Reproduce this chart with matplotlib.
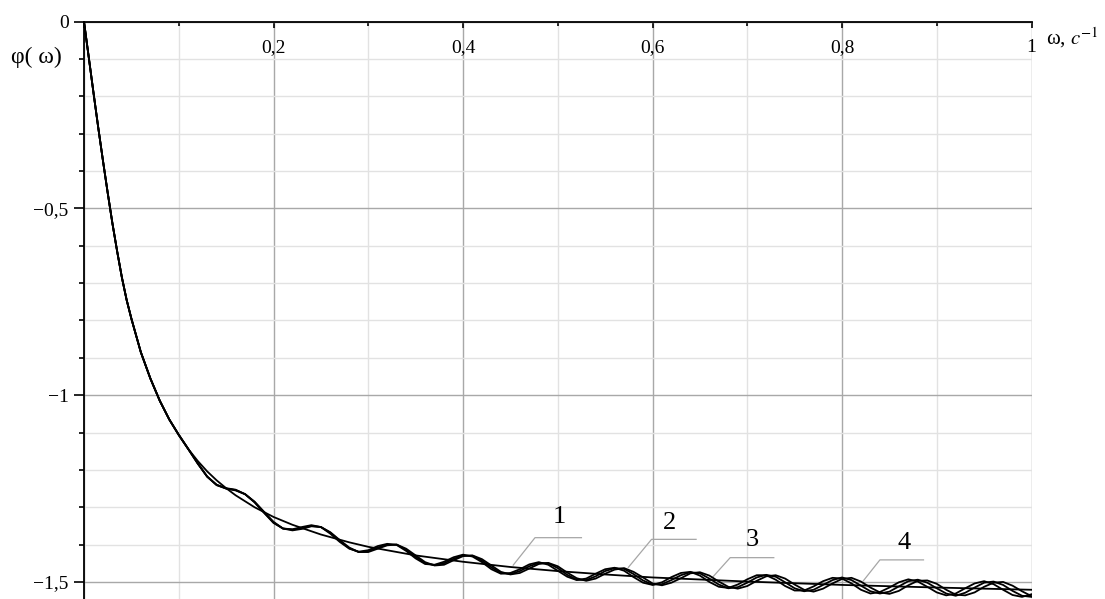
import numpy as np
import matplotlib
matplotlib.use("Agg")
import matplotlib.pyplot as plt
from matplotlib.ticker import MultipleLocator, FuncFormatter

plt.rcParams['font.family'] = ['Liberation Serif', 'DejaVu Serif']
plt.rcParams['mathtext.fontset'] = 'stix'

# общий начальный участок (все 4 кривые совпадают)
OMEGA_HEAD = [0.000, 0.005, 0.010, 0.015, 0.020, 0.025, 0.030, 0.035, 0.040,
              0.045, 0.050, 0.060, 0.070, 0.080, 0.090]
PHI_HEAD = [0.000, -0.095, -0.190, -0.283, -0.372, -0.458, -0.540, -0.615, -0.685,
            -0.745, -0.795, -0.885, -0.955, -1.015, -1.065]

# кривая 1 - гладкая
OMEGA_1 = [0.10, 0.11, 0.12, 0.13, 0.14, 0.15, 0.16, 0.18, 0.20, 0.22, 0.25, 0.28,
           0.30, 0.35, 0.40, 0.45, 0.50, 0.55, 0.60, 0.70, 0.80, 0.90, 1.00]
PHI_1 = [-1.107, -1.144, -1.176, -1.204, -1.228, -1.249, -1.268, -1.300, -1.326,
         -1.347, -1.373, -1.394, -1.406, -1.429, -1.446, -1.460, -1.471, -1.480,
         -1.488, -1.499, -1.508, -1.515, -1.521]

# кривые 2-4 (с колебаниями), отсчёты через 0.01 от 0.10 до 1.00
OMEGA_W = np.linspace(0.10, 1.00, 91)
PHI_2 = [-1.106, -1.144, -1.183, -1.218, -1.240, -1.249, -1.253, -1.265, -1.287, -1.315,
         -1.342, -1.357, -1.359, -1.353, -1.348, -1.353, -1.371, -1.393, -1.411, -1.419,
         -1.415, -1.404, -1.398, -1.401, -1.417, -1.437, -1.452, -1.454, -1.446, -1.434,
         -1.427, -1.432, -1.447, -1.466, -1.478, -1.476, -1.466, -1.453, -1.447, -1.454,
         -1.470, -1.486, -1.495, -1.491, -1.478, -1.466, -1.462, -1.470, -1.487, -1.502,
         -1.508, -1.501, -1.487, -1.476, -1.473, -1.483, -1.500, -1.513, -1.516, -1.507,
         -1.493, -1.482, -1.482, -1.494, -1.511, -1.523, -1.523, -1.512, -1.498, -1.489,
         -1.491, -1.504, -1.521, -1.531, -1.527, -1.515, -1.501, -1.493, -1.499, -1.513,
         -1.528, -1.536, -1.531, -1.517, -1.504, -1.498, -1.506, -1.521, -1.535, -1.540,
         -1.533]
PHI_3 = [-1.106, -1.144, -1.183, -1.218, -1.240, -1.250, -1.254, -1.265, -1.286, -1.314,
         -1.341, -1.357, -1.360, -1.356, -1.350, -1.353, -1.368, -1.390, -1.410, -1.420,
         -1.418, -1.408, -1.400, -1.400, -1.414, -1.433, -1.450, -1.455, -1.450, -1.438,
         -1.429, -1.430, -1.443, -1.461, -1.476, -1.479, -1.471, -1.458, -1.449, -1.450,
         -1.463, -1.481, -1.494, -1.495, -1.485, -1.471, -1.463, -1.465, -1.479, -1.496,
         -1.507, -1.506, -1.495, -1.482, -1.474, -1.477, -1.491, -1.507, -1.517, -1.514,
         -1.502, -1.488, -1.481, -1.486, -1.501, -1.517, -1.525, -1.521, -1.508, -1.495,
         -1.488, -1.495, -1.510, -1.525, -1.531, -1.526, -1.512, -1.498, -1.494, -1.502,
         -1.517, -1.531, -1.537, -1.529, -1.515, -1.502, -1.499, -1.508, -1.524, -1.537,
         -1.540]
PHI_4 = [-1.106, -1.144, -1.182, -1.218, -1.241, -1.250, -1.255, -1.265, -1.285, -1.312,
         -1.339, -1.357, -1.362, -1.358, -1.351, -1.353, -1.367, -1.388, -1.408, -1.420,
         -1.420, -1.411, -1.402, -1.400, -1.411, -1.429, -1.447, -1.456, -1.454, -1.442,
         -1.431, -1.429, -1.439, -1.456, -1.473, -1.480, -1.476, -1.464, -1.452, -1.449,
         -1.458, -1.475, -1.490, -1.497, -1.491, -1.478, -1.467, -1.463, -1.473, -1.488,
         -1.504, -1.509, -1.502, -1.490, -1.477, -1.474, -1.483, -1.499, -1.513, -1.518,
         -1.511, -1.497, -1.485, -1.482, -1.491, -1.507, -1.521, -1.526, -1.518, -1.504,
         -1.492, -1.489, -1.499, -1.515, -1.528, -1.532, -1.524, -1.509, -1.497, -1.496,
         -1.505, -1.521, -1.534, -1.536, -1.528, -1.513, -1.502, -1.500, -1.510, -1.525,
         -1.538]

# подписи кривых: (текст, x текста, y текста, острие выноски, излом, конец полки)
LABELS = [
    ('1', 0.502, -1.325, (0.453, -1.455), (0.476, -1.3815), 0.525),
    ('2', 0.618, -1.343, (0.5745, -1.461), (0.599, -1.386), 0.646),
    ('3', 0.705, -1.388, (0.6625, -1.490), (0.682, -1.435), 0.728),
    ('4', 0.866, -1.397, (0.8225, -1.497), (0.840, -1.441), 0.886),
]

W, H = 1105, 599
fig = plt.figure(figsize=(W / 100, H / 100), dpi=100)
ax = fig.add_axes([84 / W, 0, (1031.5 - 84) / W, (H - 21.7) / H])
ax.set_xlim(0, 1)
ax.set_ylim(-1.5457, 0)

ax.xaxis.set_major_locator(MultipleLocator(0.2))
ax.xaxis.set_minor_locator(MultipleLocator(0.1))
ax.yaxis.set_major_locator(MultipleLocator(0.5))
ax.yaxis.set_minor_locator(MultipleLocator(0.1))


def fmt(v, pos):
    if abs(v) < 1e-9:
        return '0'
    s = f'{abs(v):.1f}'.rstrip('0').rstrip('.').replace('.', ',')
    return ('\u2212' + s) if v < 0 else s


ax.xaxis.set_major_formatter(FuncFormatter(lambda v, p: '' if abs(v) < 1e-9 else fmt(v, p)))
ax.yaxis.set_major_formatter(FuncFormatter(fmt))

ax.grid(which='major', color='#a8a8a8', lw=1.0)
ax.grid(which='minor', color='#e2e2e2', lw=1.0)
ax.set_axisbelow(True)

for side in ('bottom', 'right'):
    ax.spines[side].set_visible(False)
for side in ('top', 'left'):
    ax.spines[side].set_linewidth(1.3)
    ax.spines[side].set_color('black')

ax.tick_params(axis='x', which='both', top=True, bottom=False, labeltop=True,
               labelbottom=False, direction='in', pad=-25, labelsize=14, width=1.2)
ax.tick_params(axis='x', which='major', length=4.5)
ax.tick_params(axis='x', which='minor', length=3)
ax.tick_params(axis='y', which='both', direction='out', width=1.2, labelsize=14, pad=4)
ax.tick_params(axis='y', which='major', length=7)
ax.tick_params(axis='y', which='minor', length=3.6)

curves = [(OMEGA_1, PHI_1), (OMEGA_W, PHI_2), (OMEGA_W, PHI_3), (OMEGA_W, PHI_4)]
for om, ph in curves:
    x = np.concatenate([OMEGA_HEAD, om])
    y = np.concatenate([PHI_HEAD, ph])
    ax.plot(x, y, color='black', lw=1.3, solid_joinstyle='round', zorder=3)

for txt, tx, ty, tip, knee, x_end in LABELS:
    ax.plot([tip[0], knee[0], x_end], [tip[1], knee[1], knee[1]],
            color='#a6a6a6', lw=0.9, zorder=2)
    ax.text(tx, ty, txt, fontsize=19, ha='center', va='center', zorder=4)

fig.text(36 / W, 1 - 57 / H, 'φ( ω)', fontsize=17, ha='center', va='center')
fig.text(1046 / W, 1 - 38 / H, 'ω, $c^{-1}$', fontsize=15, ha='left', va='center')

fig.savefig('out.png', dpi=100)
